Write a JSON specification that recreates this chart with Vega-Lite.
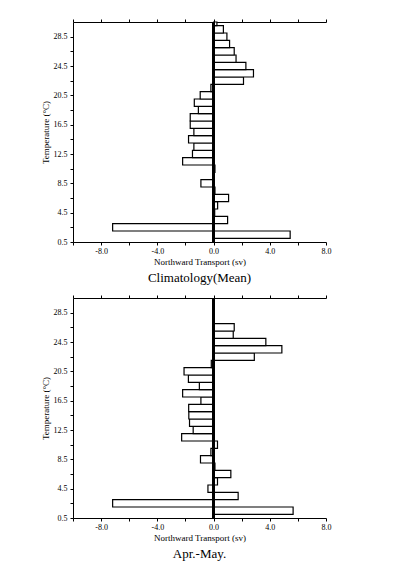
{
  "$schema": "https://vega.github.io/schema/vega-lite/v6.json",
  "background": "white",
  "padding": {"left": 41, "top": 18, "right": 5, "bottom": 5},
  "config": {
    "view": {"stroke": null},
    "font": "Liberation Serif",
    "axis": {"domainColor": "black", "tickColor": "black", "labelColor": "black", "titleColor": "black", "grid": false, "labelFont": "Liberation Serif", "titleFont": "Liberation Serif", "labelFontSize": 8, "titleFontSize": 9, "titleFontWeight": "normal", "tickSize": 3, "domainWidth": 1, "tickWidth": 1, "labelOverlap": false, "labelFlush": false},
    "title": {"font": "Liberation Serif", "fontSize": 13, "fontWeight": "normal", "color": "black"},
    "concat": {"spacing": 9}
  },
  "datasets": {
    "clim": [
      {"t0": 1, "t1": 2, "v": 5.45}, {"t0": 2, "t1": 3, "v": -7.18}, {"t0": 3, "t1": 4, "v": 1.0},
      {"t0": 4, "t1": 5, "v": 0.08}, {"t0": 5, "t1": 6, "v": 0.29}, {"t0": 6, "t1": 7, "v": 1.07},
      {"t0": 7, "t1": 8, "v": 0.1}, {"t0": 8, "t1": 9, "v": -0.9}, {"t0": 9, "t1": 10, "v": 0.05},
      {"t0": 10, "t1": 11, "v": 0.1}, {"t0": 11, "t1": 12, "v": -2.2}, {"t0": 12, "t1": 13, "v": -1.5},
      {"t0": 13, "t1": 14, "v": -1.4}, {"t0": 14, "t1": 15, "v": -1.78}, {"t0": 15, "t1": 16, "v": -1.4},
      {"t0": 16, "t1": 17, "v": -1.66}, {"t0": 17, "t1": 18, "v": -1.66}, {"t0": 18, "t1": 19, "v": -1.08},
      {"t0": 19, "t1": 20, "v": -1.37}, {"t0": 20, "t1": 21, "v": -0.95}, {"t0": 21, "t1": 22, "v": -0.19},
      {"t0": 22, "t1": 23, "v": 2.13}, {"t0": 23, "t1": 24, "v": 2.84}, {"t0": 24, "t1": 25, "v": 2.3},
      {"t0": 25, "t1": 26, "v": 1.6}, {"t0": 26, "t1": 27, "v": 1.47}, {"t0": 27, "t1": 28, "v": 1.14},
      {"t0": 28, "t1": 29, "v": 0.95}, {"t0": 29, "t1": 30, "v": 0.7}, {"t0": 30, "t1": 30.5, "v": 0.24}
    ],
    "am": [
      {"t0": 1, "t1": 2, "v": 5.66}, {"t0": 2, "t1": 3, "v": -7.18}, {"t0": 3, "t1": 4, "v": 1.75},
      {"t0": 4, "t1": 5, "v": -0.4}, {"t0": 5, "t1": 6, "v": 0.28}, {"t0": 6, "t1": 7, "v": 1.23},
      {"t0": 7, "t1": 8, "v": 0.1}, {"t0": 8, "t1": 9, "v": -0.93}, {"t0": 9, "t1": 10, "v": -0.19},
      {"t0": 10, "t1": 11, "v": 0.28}, {"t0": 11, "t1": 12, "v": -2.27}, {"t0": 12, "t1": 13, "v": -1.45},
      {"t0": 13, "t1": 14, "v": -1.71}, {"t0": 14, "t1": 15, "v": -1.76}, {"t0": 15, "t1": 16, "v": -1.77},
      {"t0": 16, "t1": 17, "v": -0.9}, {"t0": 17, "t1": 18, "v": -2.2}, {"t0": 18, "t1": 19, "v": -1.01},
      {"t0": 19, "t1": 20, "v": -1.79}, {"t0": 20, "t1": 21, "v": -2.1}, {"t0": 21, "t1": 22, "v": -0.16},
      {"t0": 22, "t1": 23, "v": 2.9}, {"t0": 23, "t1": 24, "v": 4.86}, {"t0": 24, "t1": 25, "v": 3.72},
      {"t0": 25, "t1": 26, "v": 1.4}, {"t0": 26, "t1": 27, "v": 1.47}, {"t0": 27, "t1": 28, "v": 0},
      {"t0": 28, "t1": 29, "v": 0}, {"t0": 29, "t1": 30, "v": 0.05}, {"t0": 30, "t1": 30.5, "v": 0}
    ]
  },
  "vconcat": [
    {
      "width": 253, "height": 220,
      "title": {"text": "Climatology(Mean)", "orient": "bottom", "offset": 6},
      "data": {"name": "clim"},
      "layer": [
        {
          "mark": {"type": "rect", "fill": "white", "stroke": "black", "strokeWidth": 1.2},
          "encoding": {
            "x": {"field": "v", "type": "quantitative", "scale": {"domain": [-10, 8], "nice": false, "zero": false},
              "axis": {"orient": "bottom", "title": "Northward Transport (sv)", "values": [-10, -8, -6, -4, -2, 0, 2, 4, 6, 8], "labelExpr": "datum.value % 4 == 0 ? (datum.value < 0 ? '-' : '') + format(abs(datum.value), '.1f') : ''", "labelPadding": 2, "titlePadding": 2}},
            "x2": {"datum": 0},
            "y": {"field": "t0", "type": "quantitative", "scale": {"domain": [0.5, 30.5], "nice": false, "zero": false},
              "axis": {"orient": "left", "title": "Temperature (°C)", "values": [0.5, 2.5, 4.5, 6.5, 8.5, 10.5, 12.5, 14.5, 16.5, 18.5, 20.5, 22.5, 24.5, 26.5, 28.5], "labelExpr": "(datum.value - 0.5) % 4 == 0 ? format(datum.value, '.1f') : ''", "labelPadding": 3, "titlePadding": 3}},
            "y2": {"field": "t1"}
          }
        },
        {
          "mark": {"type": "rule", "strokeWidth": 1.8, "color": "black"},
          "encoding": {
            "x": {"datum": 0, "type": "quantitative", "axis": {"orient": "top", "title": null, "labels": false, "values": [-10, -8, -6, -4, -2, 0, 2, 4, 6, 8]}}
          }
        }
      ]
    },
    {
      "width": 253, "height": 220,
      "title": {"text": "Apr.-May.", "orient": "bottom", "offset": 6},
      "data": {"name": "am"},
      "layer": [
        {
          "mark": {"type": "rect", "fill": "white", "stroke": "black", "strokeWidth": 1.2},
          "encoding": {
            "x": {"field": "v", "type": "quantitative", "scale": {"domain": [-10, 8], "nice": false, "zero": false},
              "axis": {"orient": "bottom", "title": "Northward Transport (sv)", "values": [-10, -8, -6, -4, -2, 0, 2, 4, 6, 8], "labelExpr": "datum.value % 4 == 0 ? (datum.value < 0 ? '-' : '') + format(abs(datum.value), '.1f') : ''", "labelPadding": 2, "titlePadding": 2}},
            "x2": {"datum": 0},
            "y": {"field": "t0", "type": "quantitative", "scale": {"domain": [0.5, 30.5], "nice": false, "zero": false},
              "axis": {"orient": "left", "title": "Temperature (°C)", "values": [0.5, 2.5, 4.5, 6.5, 8.5, 10.5, 12.5, 14.5, 16.5, 18.5, 20.5, 22.5, 24.5, 26.5, 28.5], "labelExpr": "(datum.value - 0.5) % 4 == 0 ? format(datum.value, '.1f') : ''", "labelPadding": 3, "titlePadding": 3}},
            "y2": {"field": "t1"}
          }
        },
        {
          "mark": {"type": "rule", "strokeWidth": 1.8, "color": "black"},
          "encoding": {
            "x": {"datum": 0, "type": "quantitative", "axis": {"orient": "top", "title": null, "labels": false, "values": [-10, -8, -6, -4, -2, 0, 2, 4, 6, 8]}}
          }
        }
      ]
    }
  ]
}
